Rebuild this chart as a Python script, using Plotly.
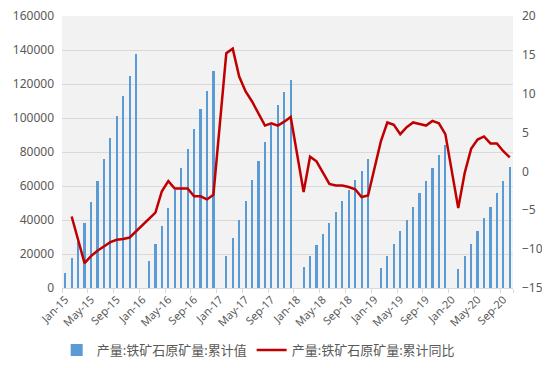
import plotly.graph_objects as go

months = [
    "Jan-15","Feb-15","Mar-15","Apr-15","May-15","Jun-15","Jul-15","Aug-15","Sep-15","Oct-15","Nov-15","Dec-15",
    "Jan-16","Feb-16","Mar-16","Apr-16","May-16","Jun-16","Jul-16","Aug-16","Sep-16","Oct-16","Nov-16","Dec-16",
    "Jan-17","Feb-17","Mar-17","Apr-17","May-17","Jun-17","Jul-17","Aug-17","Sep-17","Oct-17","Nov-17","Dec-17",
    "Jan-18","Feb-18","Mar-18","Apr-18","May-18","Jun-18","Jul-18","Aug-18","Sep-18","Oct-18","Nov-18","Dec-18",
    "Jan-19","Feb-19","Mar-19","Apr-19","May-19","Jun-19","Jul-19","Aug-19","Sep-19","Oct-19","Nov-19","Dec-19",
    "Jan-20","Feb-20","Mar-20","Apr-20","May-20","Jun-20","Jul-20","Aug-20","Sep-20","Oct-20",
]

cum_value = [
    8800, 17600, 27000, 38200, 50300, 63200, 75800, 88100, 101200, 113000, 124700, 137700,
    None, 16000, 25800, 36200, 46800, 57800, 70500, 82000, 93800, 105500, 115900, 127900,
    None, 18600, 29700, 40100, 50900, 63500, 74800, 86100, 96000, 107700, 115500, 122400,
    None, 12100, 18600, 25400, 31900, 38500, 44600, 50900, 57800, 63600, 69100, 75800,
    None, 11700, 19000, 26000, 33300, 40100, 47900, 55800, 63000, 70500, 78300, 84200,
    None, 11200, 18600, 25800, 33300, 41100, 47900, 55800, 63200, 71100,
]

cum_yoy = [
    None, -5.8, -8.8, -11.8, -10.9, -10.2, -9.65, -9.1, -8.8, -8.7, -8.5, -7.7,
    None, -6.1, -5.3, -2.55, -1.25, -2.2, -2.2, -2.2, -3.2, -3.2, -3.6, -3.0,
    None, 15.2, 15.8, 12.2, 10.3, 9.0, 7.5, 5.9, 6.2, 5.9, 6.4, 7.0,
    None, -2.65, 1.9, 1.3, -0.2, -1.6, -1.8, -1.8, -2.0, -2.3, -3.3, -3.1,
    None, 3.9, 6.3, 6.0, 4.8, 5.7, 6.3, 6.1, 5.9, 6.5, 6.2, 4.8,
    None, -4.7, -0.2, 2.9, 4.1, 4.5, 3.6, 3.6, 2.6, 1.8,
]

tick_labels = ["Jan-15","May-15","Sep-15","Jan-16","May-16","Sep-16","Jan-17","May-17","Sep-17",
               "Jan-18","May-18","Sep-18","Jan-19","May-19","Sep-19","Jan-20","May-20","Sep-20"]

bar_name = "产量:铁矿石原矿量:累计值"
line_name = "产量:铁矿石原矿量:累计同比"

idx = list(range(len(months)))
tick_pos = [months.index(t) for t in tick_labels]
boundary_pos = [p - 0.5 for p in tick_pos] + [len(months) - 0.5]

font_fam = "Noto Sans, Noto Sans CJK SC, sans-serif"
grey = "#595959"

fig = go.Figure()
fig.add_trace(go.Bar(
    x=idx, y=cum_value, name=bar_name, width=0.34,
    marker=dict(color="#5b9bd5", line=dict(width=0)),
))
fig.add_trace(go.Scatter(
    x=idx, y=cum_yoy, name=line_name, yaxis="y2", mode="lines",
    connectgaps=True, line=dict(color="#c00000", width=2.5),
))

# page body has an 8px default margin, so the figure is sized/offset to compensate
fig.update_layout(
    width=542, height=360,
    margin=dict(l=54, r=37, t=8, b=80, autoexpand=False),
    paper_bgcolor="white", plot_bgcolor="#f2f2f2",
    font=dict(family=font_fam, size=12, color=grey),
    bargap=0,
    showlegend=True,
    legend=dict(orientation="h", x=0.435, xanchor="center", y=-0.228, yanchor="middle",
                font=dict(size=13, color=grey), itemwidth=30, tracegroupgap=0),
    xaxis=dict(
        range=[-0.5, len(months) - 0.5],
        tickmode="array", tickvals=tick_pos, ticktext=tick_labels,
        tickangle=-45, ticks="", showgrid=False, zeroline=False,
        showline=True, linecolor="#d9d9d9", linewidth=1,
        tickfont=dict(size=11, color=grey),
        minor=dict(tickmode="array", tickvals=boundary_pos, ticks="outside",
                   ticklen=4, tickcolor="#d9d9d9", showgrid=False),
    ),
    yaxis=dict(
        range=[0, 160000], dtick=20000, tick0=0, tickformat="d",
        showgrid=True, gridcolor="#d9d9d9", gridwidth=1, zeroline=False,
        tickfont=dict(size=12, color=grey), ticks="", ticklabelstandoff=7,
        ticklabeloverflow="allow",
    ),
    yaxis2=dict(
        range=[-15, 20], dtick=5, tick0=-15, tickformat="d", overlaying="y", side="right",
        showgrid=False, zeroline=False,
        tickfont=dict(size=12, color=grey), ticks="", ticklabelstandoff=8,
        ticklabeloverflow="allow",
    ),
)

fig.write_html("out.html")
